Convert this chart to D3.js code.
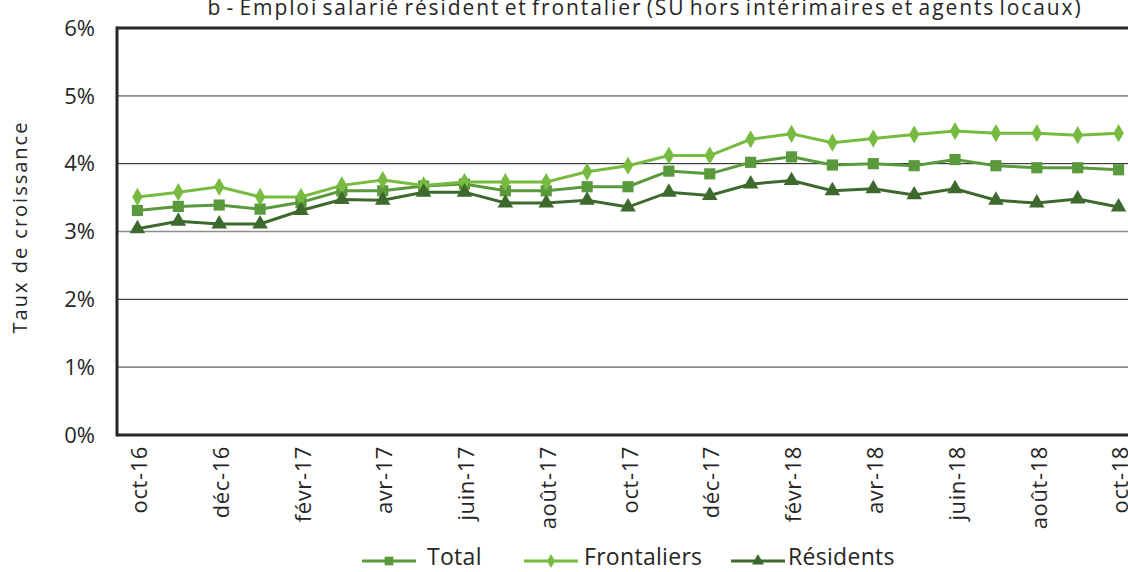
<!DOCTYPE html>
<html>
<head>
<meta charset="utf-8">
<script src="https://cdn.jsdelivr.net/npm/d3@7"></script>
<style>
  body { margin: 0; background: #fff; }
  svg { font-family: "Open Sans", "Noto Sans", sans-serif; }
</style>
</head>
<body>
<div id="chart"></div>
<script>
const months = ["oct-16","nov-16","déc-16","janv-17","févr-17","mars-17","avr-17","mai-17","juin-17",
  "juil-17","août-17","sept-17","oct-17","nov-17","déc-17","janv-18","févr-18","mars-18","avr-18",
  "mai-18","juin-18","juil-18","août-18","sept-18","oct-18"];
const total = [3.31,3.37,3.39,3.33,3.43,3.60,3.60,3.67,3.70,3.60,3.60,3.66,3.66,3.89,3.85,4.02,4.10,
  3.98,4.00,3.97,4.06,3.97,3.94,3.94,3.91];
const frontaliers = [3.51,3.58,3.66,3.51,3.51,3.68,3.76,3.68,3.73,3.73,3.73,3.88,3.97,4.12,4.12,4.36,
  4.44,4.31,4.37,4.43,4.48,4.45,4.45,4.42,4.45];
const residents = [3.04,3.15,3.11,3.11,3.31,3.47,3.46,3.58,3.58,3.42,3.42,3.46,3.36,3.58,3.53,3.70,
  3.75,3.60,3.63,3.54,3.63,3.46,3.42,3.48,3.36];
const yTicks = [0,1,2,3,4,5,6];
const title = "b - Emploi salarié résident et frontalier (SU hors intérimaires et agents locaux)";

const width = 1128, height = 572;
const plotLeft = 117, plotRight = 1139, plotTop = 28, plotBottom = 435;

const svg = d3.select("#chart").append("svg")
  .attr("width", width).attr("height", height);

const x = d3.scalePoint().domain(months).range([plotLeft, plotRight]).padding(0.5);
const y = d3.scaleLinear().domain([0, 6]).range([plotBottom, plotTop]);

// gridlines (alternating grey / black like the original)
svg.append("g").selectAll("line")
  .data(yTicks.filter(d => d > 0 && d < 6))
  .join("line")
  .attr("x1", plotLeft).attr("x2", width)
  .attr("y1", d => y(d)).attr("y2", d => y(d))
  .attr("stroke", d => d % 2 ? "#8c8c8c" : "#1a1a1a")
  .attr("stroke-width", d => d % 2 ? 1.6 : 1);

// frame
svg.append("line").attr("x1", plotLeft).attr("x2", width).attr("y1", plotTop).attr("y2", plotTop)
  .attr("stroke", "#262626").attr("stroke-width", 3);
svg.append("line").attr("x1", plotLeft).attr("x2", width).attr("y1", plotBottom).attr("y2", plotBottom)
  .attr("stroke", "#262626").attr("stroke-width", 3);
svg.append("line").attr("x1", plotLeft).attr("x2", plotLeft).attr("y1", plotTop - 1.5).attr("y2", plotBottom + 1.5)
  .attr("stroke", "#262626").attr("stroke-width", 3);

// y tick labels
svg.append("g").selectAll("text")
  .data(yTicks).join("text")
  .attr("x", 95).attr("y", d => y(d))
  .attr("dy", "0.35em")
  .attr("text-anchor", "end")
  .attr("font-size", 22).attr("fill", "#262626")
  .text(d => d + "%");

// x tick labels, every other month
svg.append("g").selectAll("text")
  .data(months.filter((d, i) => i % 2 === 0)).join("text")
  .attr("transform", d => `translate(${x(d) + 2},446) rotate(-90)`)
  .attr("dy", "0.35em")
  .attr("text-anchor", "end")
  .attr("font-size", 22).attr("letter-spacing", 0.6).attr("fill", "#262626")
  .text(d => d);

// axis title
svg.append("text")
  .attr("transform", "translate(20,227) rotate(-90)")
  .attr("dy", "0.35em")
  .attr("text-anchor", "middle")
  .attr("font-size", 20).attr("letter-spacing", 2).attr("fill", "#262626")
  .text("Taux de croissance");

// chart title (cut at top, as in the original)
svg.append("text")
  .attr("x", 645).attr("y", 15)
  .attr("text-anchor", "middle")
  .attr("font-size", 21).attr("fill", "#262626")
  .attr("letter-spacing", 1.9).attr("word-spacing", -3)
  .text(title);

const series = [
  {name: "Total", values: total, color: "#5b9a3c", symbol: d3.symbolSquare, size: 125},
  {name: "Frontaliers", values: frontaliers, color: "#77bb41", symbol: d3.symbolDiamond, size: 95},
  {name: "Résidents", values: residents, color: "#3e692d", symbol: d3.symbolTriangle, size: 105}
];

const line = d3.line().x((d, i) => x(months[i])).y(d => y(d));

series.forEach(s => {
  const g = svg.append("g");
  g.append("path")
    .attr("d", line(s.values))
    .attr("fill", "none")
    .attr("stroke", s.color)
    .attr("stroke-width", 3);
  g.selectAll("path.m").data(s.values).join("path")
    .attr("class", "m")
    .attr("transform", (d, i) => `translate(${x(months[i])},${y(d)})`)
    .attr("d", d3.symbol().type(s.symbol).size(s.size))
    .attr("fill", s.color);
});

// legend
const legendPos = [{x: 362, tx: 427}, {x: 524, tx: 584}, {x: 731, tx: 788}];
series.forEach((s, i) => {
  const p = legendPos[i];
  const g = svg.append("g").attr("transform", `translate(${p.x},561)`);
  g.append("line").attr("x1", 0).attr("x2", 54).attr("y1", 0).attr("y2", 0)
    .attr("stroke", s.color).attr("stroke-width", 3);
  g.append("path").attr("transform", "translate(27,0)")
    .attr("d", d3.symbol().type(s.symbol).size(s.size * 0.6))
    .attr("fill", s.color);
  svg.append("text").attr("x", p.tx).attr("y", 565)
    .attr("font-size", 23).attr("letter-spacing", 0.3).attr("fill", "#262626")
    .text(s.name);
});
</script>
</body>
</html>
